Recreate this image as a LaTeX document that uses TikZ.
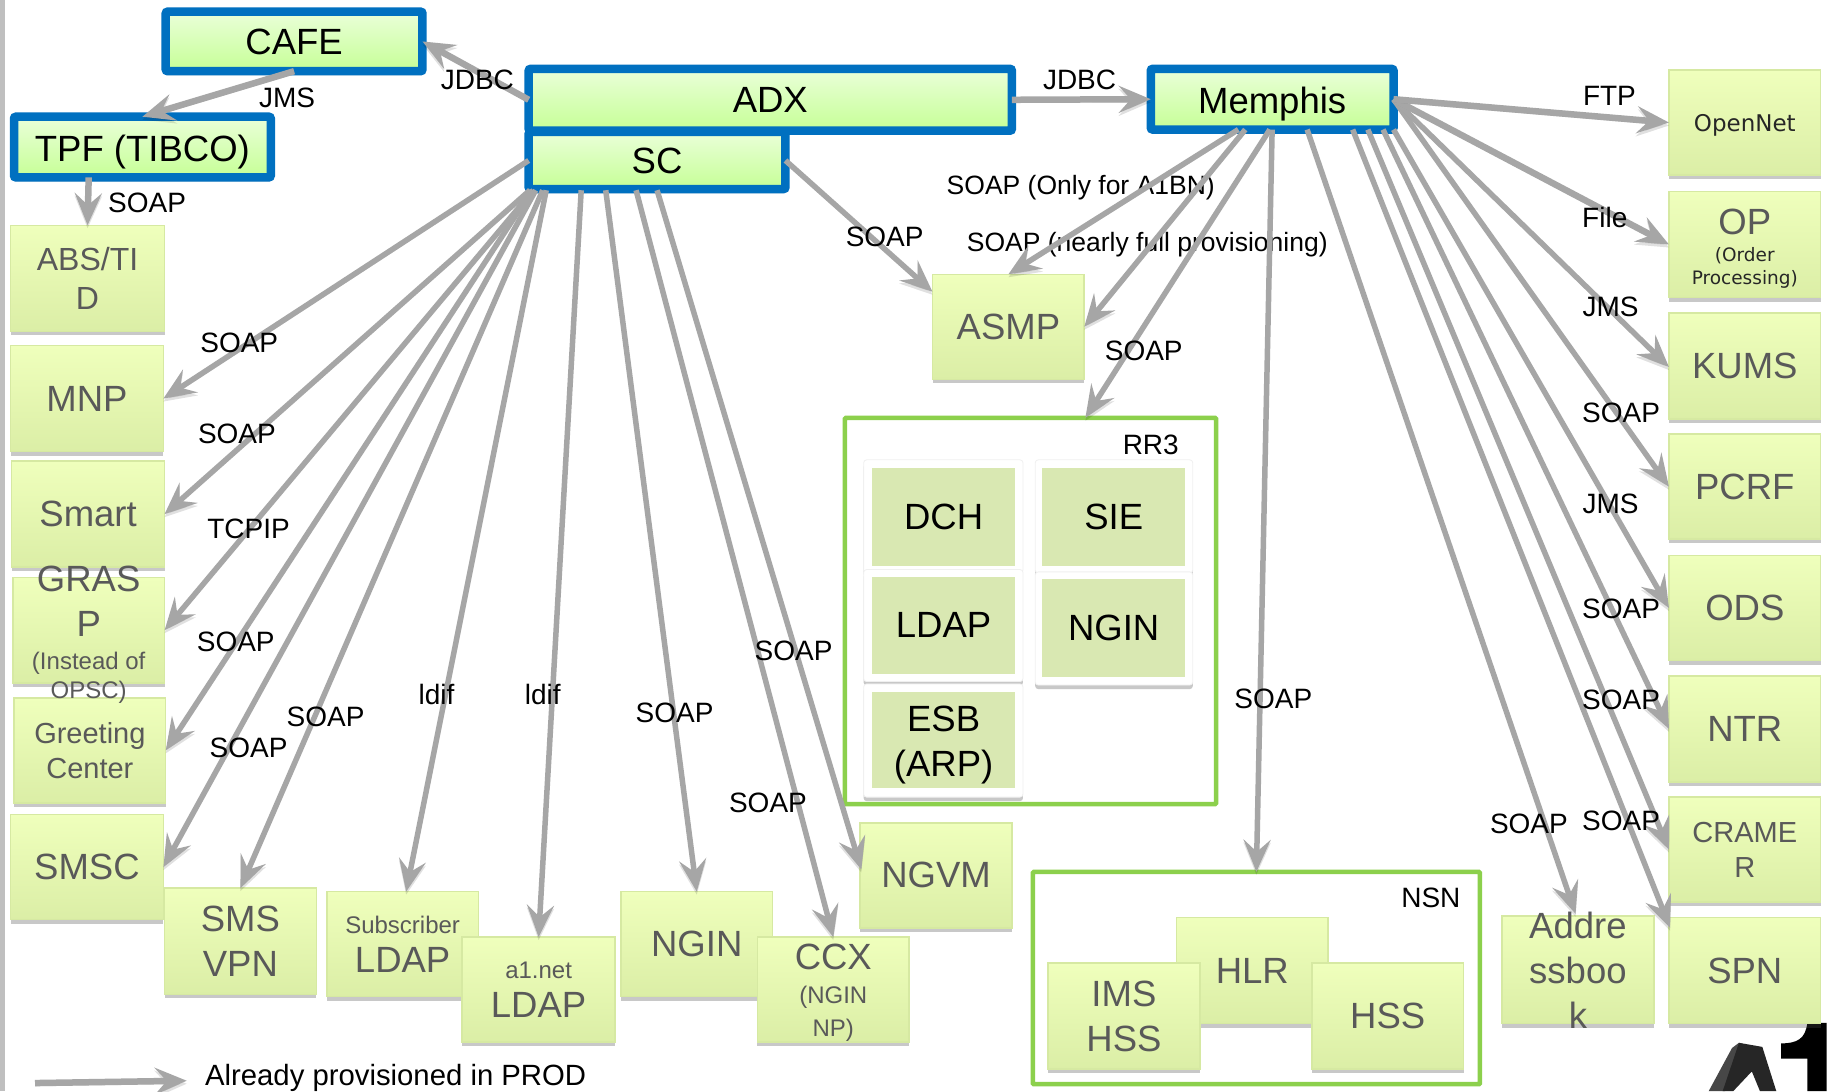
\documentclass[tikz,border=0pt]{standalone}
\usepackage{fontspec}
\setmainfont{Liberation Sans}
\newfontfamily\verd{DejaVu Sans}
\usetikzlibrary{arrows.meta,shadows,calc}
\definecolor{gt}{HTML}{EFFFBC}
\definecolor{gb}{HTML}{DBEEA6}
\definecolor{gbd}{HTML}{D6E9A2}
\definecolor{bt}{HTML}{EAFFD9}
\definecolor{bb}{HTML}{C6FF96}
\definecolor{blu}{HTML}{0070C0}
\definecolor{grn}{HTML}{8CD04C}
\definecolor{inn}{HTML}{D9E8B2}
\definecolor{arr}{HTML}{A6A6A6}
\definecolor{txg}{HTML}{595959}
\newcommand{\fa}{\fontsize{36.5}{45}\selectfont}
\newcommand{\fab}{\fontsize{32}{39}\selectfont}
\newcommand{\fb}{\fontsize{29}{34.5}\selectfont}
\newcommand{\fc}{\fontsize{24}{30}\selectfont}
\newcommand{\fl}{\fontsize{28}{34}\selectfont}
\newcommand{\fm}{\fontsize{26.5}{32}\selectfont}
\newcommand{\fn}{\fontsize{29.3}{34}\selectfont}
\newcommand{\fv}{\color{black!85}\verd\fontsize{18.5}{23}\selectfont}
\tikzset{
  softshadow/.style={drop shadow={shadow xshift=0pt,shadow yshift=-4pt,opacity=.3,fill=black!70}},
  rbase/.style={rectangle,inner sep=0pt,outer sep=0pt,align=center},
  gbox/.style={rbase,top color=gt,bottom color=gb,draw=gbd,line width=1.5pt,text=txg,font=\fa,softshadow},
  bbox/.style={rbase,top color=bt,bottom color=bb,draw=blu,line width=8.5pt,rounded corners=2pt,text=black,font=\fa,softshadow},
  frame/.style={rbase,draw=grn,line width=4.5pt,rounded corners=1pt,fill=white},
  cardbox/.style={rbase,fill=white,draw=black!6,line width=.8pt,rounded corners=3pt,softshadow},
  innbox/.style={rbase,fill=inn,text=black,font=\fa},
  lab/.style={inner sep=0pt,outer sep=0pt,text=black,font=\fl,align=center},
  conn/.style={draw=arr,line width=5.5pt,-{Stealth[length=32pt,width=27pt,inset=12pt]},
    preaction={draw=black,opacity=.12,transform canvas={yshift=-3pt}}},
  connb/.style={conn,line width=6.5pt},
}
% \rn[style]{name}{x1}{y1}{x2}{y2}{text}
\newcommand{\rn}[7][gbox]{%
  \pgfmathsetmacro{\rw}{(#5-#3)*1.1671}\pgfmathsetmacro{\rh}{(#6-#4)*1.1671}%
  \node[#1,minimum width=\rw pt,minimum height=\rh pt] (#2) at ({(#3+#5)/2},{(#4+#6)/2}) {#7};}
\begin{document}
\begin{tikzpicture}[x=1.1671pt,y=-1.1671pt]
\useasboundingbox (0,0) rectangle (1568,935);
\fill[white] (0,0) rectangle (1568,935);
\rn[rbase,fill=black!25]{leftbar}{0}{0}{4.5}{935}{}

% logo
\fill[black] (1548.5,876.5) -- (1565,876.5) -- (1565,935) -- (1548.5,935) -- (1548.5,907) -- (1526,907) -- (1526,894) .. controls (1540,894) and (1547,890) .. (1548.5,876.5) -- cycle;
\fill[black!72] (1464,935) -- (1484,898) -- (1490,893.5) -- (1495,895) -- (1478,935) -- cycle;
\fill[black!85] (1490,893.5) -- (1510,897) -- (1522,935) -- (1508,935) -- (1501,918) -- (1485,935) -- (1476,935) -- cycle;

% frames
\rn[frame]{rr3}{724}{358}{1042}{689}{}
\rn[frame]{nsn}{885}{747}{1268}{929}{}

% RR3 content
\rn[cardbox]{sieCard}{887}{394}{1022}{491}{}
\rn[cardbox]{dchCard}{740}{394}{876.5}{491}{}
\rn[cardbox]{nginCard}{887}{490}{1022}{587}{}
\rn[cardbox]{ldapCard}{740}{488}{876.5}{584}{}
\rn[cardbox]{esbCard}{740}{586}{876.5}{683}{}
\rn[innbox]{dch}{747}{401}{870}{485}{DCH}
\rn[innbox]{sie}{893}{401}{1015.5}{485}{SIE}
\rn[innbox]{ldapr}{747}{494}{870}{577.5}{LDAP}
\rn[innbox]{nginr}{893}{496}{1015.5}{580}{NGIN}
\rn[innbox]{esb}{747}{593}{870}{675}{}
\node[rbase,text=black,font=\fa] (esbT) at (808.5,638) {ESB\\(ARP)};

% NSN content
\rn{hlr}{1008}{786}{1138}{877}{HLR}
\rn{ims}{898}{825}{1028}{916}{IMS\\HSS}
\rn{hss}{1124}{825}{1254}{916}{HSS}

% blue boxes
\rn[bbox]{cafe}{142}{10}{362}{61}{\raisebox{-13.5pt}[0pt][0pt]{CAFE}}
\rn[bbox]{tpf}{12}{100}{232}{152}{\raisebox{-14pt}[0pt][0pt]{TPF (TIBCO)}}
\rn[bbox]{sc}{453}{113}{673}{162}{SC}
\rn[bbox]{adx}{453}{59}{867}{112}{ADX}
\rn[bbox]{memphis}{986}{59}{1194}{111}{\raisebox{-14pt}[0pt][0pt]{Memphis}}

% left column
\rn[gbox,font=\fab]{abs}{9}{193}{141}{284}{ABS/TI\\D}
\rn{mnp}{9}{296}{140}{387}{MNP}
\rn{smart}{10}{395}{141}{486}{Smart}
\rn{grasp}{11}{495}{141}{585}{}
\rn[gbox,font=\fb]{greet}{12}{598}{142}{688}{Greeting\\Center}
\rn{smsc}{9}{698}{140}{788}{SMSC}
\node[rbase,text=txg,font=\fa] (graspT) at (76,544) {GRAS\\P\\[-12.5pt]\fc (Instead of\\[-16pt]\fc OPSC)};
% bottom row
\rn{vpn}{141}{761}{271}{852}{SMS\\VPN}
\rn{subl}{280}{764}{410}{854}{\fc Subscriber\\[-6pt]LDAP}
\rn{a1l}{396}{803}{527}{893}{\fc a1.net\\[-6pt]LDAP}
\rn{ngin}{532}{764}{662}{854}{NGIN}
\rn{ccx}{649}{803}{779}{893}{}
\node[rbase,text=txg,font=\fa] (ccxT) at (714,850.5) {CCX\\[-10.5pt]\fc (NGIN\\[-12pt]\fc NP)};
\rn{ngvm}{737}{705}{867}{795}{NGVM}
\rn{asmp}{799}{235}{929}{325}{ASMP}
% right column
\rn{open}{1430}{60}{1560}{150}{\raisebox{-8.5pt}[0pt][0pt]{\color{black!85}\verd\fontsize{23}{28}\selectfont OpenNet}}
\rn{op}{1430}{164}{1560}{255}{}
\node[rbase,text=txg,font=\fa] (opT) at (1495,213) {OP\\[-17.5pt]\fv (Order\\[-22pt]\fv Processing)};
\rn{kums}{1430}{268}{1560}{359}{KUMS}
\rn{pcrf}{1430}{372}{1560}{462}{PCRF}
\rn{ods}{1430}{476}{1560}{566}{ODS}
\rn{ntr}{1430}{579}{1560}{670}{NTR}
\rn[gbox,font=\fb]{cramer}{1430}{683}{1560}{773}{CRAME\\R}
\rn{spn}{1430}{786}{1560}{877}{SPN}
\rn{addr}{1287}{785}{1417}{877}{}
\node[rbase,text=txg,font=\fa] (addrT) at (1352,831) {Addre\\ssboo\\k};

% labels under connectors
\node[lab,font=\fm] (l1) at (926,161) {SOAP (Only for A1BN)};
\node[lab,font=\fm] (l2) at (983,210) {SOAP (nearly full provisioning)};

% connectors
\draw[connb] (adx.west) -- (cafe.east);
\draw[connb] (cafe.south) -- (tpf.north);
\draw[connb] ([shift={(-46,0)}]tpf.south) -- (abs.north);
\draw[connb] (adx.east) -- (memphis.west);
\draw[conn] (sc.east) -- ([shift={(0,15)}]asmp.north west);
\draw[conn] (sc.west) -- (mnp.east);
\draw[conn] ([shift={(1,1)}]sc.south west) -- (smart.east);
\draw[conn] ([shift={(4,1)}]sc.south west) -- (grasp.east);
\draw[conn] ([shift={(3,1)}]sc.south west) -- (greet.east);
\draw[conn] ([shift={(6,1)}]sc.south west) -- (smsc.east);
\draw[conn] ([shift={(12,1)}]sc.south west) -- (vpn.north);
\draw[conn] ([shift={(15,1)}]sc.south west) -- ([shift={(3,0)}]subl.north);
\draw[conn] ([shift={(45,1)}]sc.south west) -- (a1l.north);
\draw[conn] ([shift={(66,1)}]sc.south west) -- (ngin.north);
\draw[conn] ([shift={(92,1)}]sc.south west) -- (ccx.north);
\draw[conn] ([shift={(110,1)}]sc.south west) -- ([shift={(1,-5)}]ngvm.west);
\draw[conn] ([shift={(75,0)}]memphis.south west) -- (asmp.north);
\draw[conn] ([shift={(81,0)}]memphis.south west) -- (asmp.east);
\draw[conn] ([shift={(102,0)}]memphis.south west) -- ([shift={(47,0)}]rr3.north);
\draw[conn] ([shift={(104,0)}]memphis.south west) -- (nsn.north);
\draw[conn] ([shift={(134,0)}]memphis.south west) -- ([shift={(-2,-2)}]addr.north);
\draw[conn] ([shift={(173,0)}]memphis.south west) -- ([shift={(1,9)}]spn.north west);
\draw[conn] ([shift={(186,0)}]memphis.south west) -- (cramer.west);
\draw[conn] ([shift={(199,0)}]memphis.south west) -- (ntr.west);
\draw[conn] ([shift={(208,0)}]memphis.south west) -- (ods.west);
\draw[conn] (memphis.east) -- (pcrf.west);
\draw[conn] (memphis.east) -- ([shift={(0,1)}]kums.west);
\draw[connb] (memphis.east) -- (op.west);
\draw[connb] (memphis.east) -- (open.west);
\coordinate (legA) at (30,928);
\coordinate (legB) at (160,926);
\draw[connb] (legA) -- (legB);

% labels above connectors
\node[lab] (l3) at (409,68) {JDBC};
\node[lab] (l4) at (246,84) {JMS};
\node[lab] (l5) at (126,174) {SOAP};
\node[lab] (l6) at (925,68) {JDBC};
\node[lab] (l7) at (758,203) {SOAP};
\node[lab] (l8) at (980,301) {SOAP};
\node[lab] (l9) at (986,381) {RR3};
\node[lab] (l10) at (1379,82) {FTP};
\node[lab] (l11) at (1375,186) {File};
\node[lab] (l12) at (1380,263) {JMS};
\node[lab] (l13) at (1389,354) {SOAP};
\node[lab] (l14) at (1380,432) {JMS};
\node[lab] (l15) at (1389,522) {SOAP};
\node[lab] (l16) at (1389,600) {SOAP};
\node[lab] (l17) at (1389,703) {SOAP};
\node[lab] (l18) at (1310,706) {SOAP};
\node[lab] (l19) at (1091,599) {SOAP};
\node[lab] (l20) at (1226,769) {NSN};
\node[lab] (l21) at (205,294) {SOAP};
\node[lab] (l22) at (203,372) {SOAP};
\node[lab] (l23) at (213,453) {TCPIP};
\node[lab] (l24) at (202,550) {SOAP};
\node[lab] (l25) at (279,614) {SOAP};
\node[lab] (l26) at (213,641) {SOAP};
\node[lab] (l27) at (374,595) {ldif};
\node[lab] (l28) at (465,595) {ldif};
\node[lab] (l29) at (578,611) {SOAP};
\node[lab] (l30) at (658,688) {SOAP};
\node[lab] (l31) at (680,558) {SOAP};
\node[lab,font=\fn] (l32) at (339,924) {Already provisioned in PROD};
\end{tikzpicture}
\end{document}
